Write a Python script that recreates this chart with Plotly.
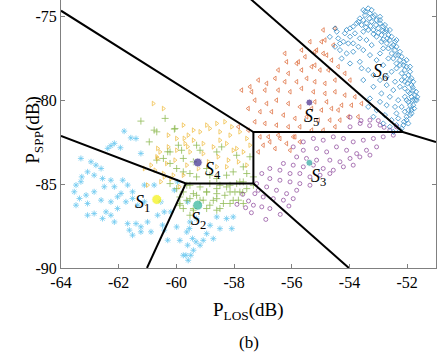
import plotly.graph_objects as go

# cluster samples: (P_LOS, P_SPP) in dB
c1_pts = [(-61.81,-81.83),(-61.58,-82.23),(-61.40,-82.27),(-62.27,-82.70),(-62.38,-82.86),(-61.94,-82.82),
          (-62.15,-82.56),(-61.23,-83.16),(-62.96,-83.66),(-62.79,-83.86),(-62.61,-84.06),(-63.08,-84.26),
          (-63.28,-84.56),(-63.48,-85.05),(-63.54,-85.45),(-63.31,-84.85),(-62.85,-84.46),(-62.56,-84.66),
          (-62.27,-84.76),(-61.86,-84.76),(-62.15,-85.15),(-61.69,-85.05),(-61.52,-85.45),(-61.92,-85.55),
          (-62.50,-85.15),(-62.85,-85.45),(-63.13,-85.65),(-63.36,-85.85),(-63.48,-86.25),(-63.08,-86.15),
          (-62.61,-85.95),(-62.27,-86.05),(-62.04,-86.45),(-61.75,-86.05),(-61.52,-85.85),(-62.44,-86.65),
          (-62.85,-86.75),(-63.08,-86.85),(-62.56,-87.05),(-62.27,-86.85),(-62.15,-87.25),(-61.69,-87.35),
          (-61.40,-87.35),(-61.23,-87.54),(-61.63,-87.74),(-61.52,-88.04),(-61.00,-87.25),(-60.65,-86.85),
          (-60.48,-87.44),(-60.30,-88.34),(-60.42,-87.74),(-60.88,-87.84),(-61.23,-87.84),(-62.04,-85.75),
          (-63.31,-83.46),(-61.34,-86.25),(-61.11,-86.05),(-59.96,-84.86),(-60.54,-86.05),(-60.77,-85.05),
          (-61.11,-85.05),(-60.07,-85.35),(-60.19,-86.65),(-60.42,-86.65),(-59.61,-86.05),(-59.55,-87.64),
          (-59.61,-88.64),(-59.50,-89.24),(-59.32,-88.44),(-59.67,-89.24),(-59.44,-88.24),(-59.99,-87.55),
          (-59.64,-87.85),(-59.30,-87.05),(-58.95,-87.95),(-58.72,-88.25),(-59.18,-88.64),(-59.41,-88.94),
          (-59.76,-89.24),(-59.59,-89.54),(-58.83,-87.45),(-58.49,-87.65),(-58.26,-87.05),(-58.08,-87.65),
          (-58.60,-86.95),(-58.03,-86.95),(-59.88,-88.35),(-59.07,-88.35),(-59.53,-87.25)]

c2_pts = [(-60.39,-81.07),(-60.05,-81.67),(-60.68,-81.87),(-59.93,-82.67),(-60.22,-83.07),(-59.82,-82.97),
          (-59.30,-82.67),(-59.18,-82.97),(-58.60,-83.07),(-58.43,-82.77),(-57.91,-83.27),(-57.45,-83.36),
          (-57.68,-83.96),(-58.03,-84.26),(-58.26,-84.46),(-58.60,-84.66),(-58.84,-84.46),(-59.30,-84.56),
          (-59.53,-84.36),(-59.76,-84.26),(-59.99,-84.06),(-60.22,-83.76),(-60.45,-83.46),(-60.68,-83.56),
          (-59.41,-83.66),(-59.76,-83.46),(-58.95,-84.06),(-57.56,-84.36),(-57.33,-84.56),(-58.14,-85.06),
          (-58.60,-85.26),(-58.95,-85.46),(-59.30,-85.66),(-59.53,-85.86),(-59.07,-85.95),(-58.60,-85.86),
          (-58.32,-85.66),(-57.97,-85.46),(-57.80,-84.86),(-59.64,-85.06),(-59.99,-85.26),(-60.22,-84.96),
          (-59.88,-86.25),(-59.41,-86.45),(-58.84,-86.25),(-58.49,-86.45),(-58.14,-86.15),(-57.85,-85.95),
          (-59.53,-85.06),(-59.18,-85.16),(-58.84,-84.96),(-58.49,-85.06),(-58.26,-85.16),(-57.91,-84.96),
          (-57.68,-84.86),(-59.76,-85.46),(-59.41,-85.56),(-58.95,-85.46),(-58.60,-85.56),(-58.14,-85.46),
          (-57.80,-85.46),(-57.56,-85.26),(-59.64,-85.96),(-59.18,-85.96),(-58.72,-85.96),(-58.37,-86.15),
          (-58.03,-85.96),(-57.68,-86.15),(-59.76,-86.45),(-59.41,-86.55),(-58.95,-86.45),(-58.60,-86.55),
          (-59.53,-86.85),(-59.88,-86.15),(-57.33,-85.06),(-59.88,-85.76),(-61.23,-81.23),(-60.77,-81.77),
          (-60.07,-81.71),(-60.94,-82.47),(-60.30,-83.06),(-57.70,-85.50)]

c4_pts = [(-60.80,-80.18),(-60.45,-80.48),(-59.76,-81.47),(-59.59,-82.07),(-59.18,-81.87),(-58.84,-81.67),
          (-58.60,-81.37),(-58.32,-81.27),(-58.08,-81.57),(-57.80,-81.87),(-57.56,-82.27),(-57.45,-82.67),
          (-57.68,-83.07),(-58.03,-82.97),(-58.26,-82.57),(-58.49,-82.37),(-58.72,-82.77),(-59.07,-82.57),
          (-59.41,-82.37),(-59.70,-82.57),(-59.99,-82.97),(-60.28,-82.77),(-60.57,-83.07),(-60.68,-83.36),
          (-60.34,-83.76),(-60.05,-83.56),(-59.64,-83.86),(-59.24,-84.06),(-58.89,-83.66),(-58.55,-83.36),
          (-58.20,-83.56),(-57.85,-83.66),(-57.56,-83.86),(-59.53,-83.07),(-59.07,-83.17),(-58.60,-83.96),
          (-58.26,-83.96),(-57.91,-82.87),(-59.76,-84.46),(-60.11,-84.46),(-60.45,-84.36),(-60.74,-84.16),
          (-58.95,-81.47),(-59.41,-81.77),(-58.14,-82.07),(-58.49,-81.87),(-59.99,-82.27),(-60.28,-82.07),
          (-59.73,-82.26),(-59.61,-82.76),(-60.65,-83.46),(-60.88,-83.86),(-61.11,-84.06),(-61.00,-85.05),
          (-60.54,-84.85),(-60.19,-84.66),(-59.90,-85.15),(-60.42,-84.56),(-60.65,-82.86)]

c5_pts = [(-54.50,-75.69),(-54.85,-76.39),(-54.56,-76.69),(-55.20,-77.09),(-54.91,-77.19),(-55.54,-77.39),
          (-55.83,-77.79),(-56.18,-77.69),(-56.47,-78.18),(-56.12,-78.38),(-55.66,-78.18),(-55.31,-77.98),
          (-55.02,-78.18),(-54.73,-78.18),(-54.39,-77.98),(-54.16,-78.38),(-53.98,-78.78),(-54.50,-78.78),
          (-54.85,-78.98),(-55.20,-78.88),(-55.48,-78.68),(-55.83,-78.88),(-56.24,-78.88),(-56.58,-78.68),
          (-56.87,-78.98),(-57.16,-78.78),(-57.45,-79.18),(-57.74,-79.38),(-57.39,-79.48),(-56.93,-79.38),
          (-56.47,-79.38),(-56.06,-79.48),(-55.66,-79.28),(-55.25,-79.48),(-54.85,-79.58),(-54.50,-79.48),
          (-54.16,-79.68),(-53.81,-79.78),(-53.58,-80.18),(-53.93,-80.28),(-54.27,-80.28),(-54.62,-80.48),
          (-54.97,-80.57),(-55.31,-80.48),(-55.72,-80.38),(-56.12,-80.18),(-56.53,-79.98),(-56.87,-80.18),
          (-57.28,-79.98),(-57.51,-80.48),(-57.10,-80.67),(-56.70,-80.67),(-56.29,-80.87),(-55.89,-81.07),
          (-55.48,-80.97),(-55.08,-81.17),(-54.68,-81.17),(-54.33,-81.17),(-54.04,-80.97),(-53.70,-80.97),
          (-54.50,-81.57),(-54.91,-81.77),(-55.31,-81.77),(-55.72,-81.57),(-56.12,-81.57),(-56.53,-81.47),
          (-56.93,-81.37),(-57.28,-81.27),(-56.47,-82.07),(-56.81,-82.17),(-55.89,-82.17),(-57.51,-81.77),
          (-57.85,-81.57),(-56.24,-77.19),(-55.37,-76.49),(-54.91,-75.79),(-54.62,-77.59),(-55.66,-76.99),
          (-55.20,-80.08),(-54.79,-80.08),(-54.39,-80.57),(-57.10,-82.17),(-56.76,-82.47),(-56.41,-82.27),
          (-56.18,-82.57),(-56.58,-82.87),(-56.99,-82.67),(-55.95,-82.17),(-57.16,-83.07),(-56.06,-82.97),
          (-55.72,-82.47),(-54.97,-76.49),(-55.14,-76.99),(-55.77,-77.69),(-54.79,-77.29),(-55.20,-77.89)]

c3_pts = [(-53.98,-81.57),(-53.63,-81.37),(-53.29,-81.17),(-52.94,-81.47),(-52.60,-81.77),(-52.37,-81.57),
          (-55.60,-82.47),(-55.25,-82.27),(-54.91,-82.37),(-54.56,-82.17),(-54.21,-82.27),(-53.87,-82.47),
          (-53.52,-82.37),(-53.17,-82.27),(-52.83,-82.17),(-52.48,-82.07),(-55.95,-82.77),(-55.60,-82.97),
          (-55.14,-82.87),(-54.79,-83.07),(-54.45,-82.77),(-54.10,-82.97),(-53.75,-83.17),(-53.41,-82.97),
          (-53.06,-82.77),(-55.83,-83.37),(-55.49,-83.46),(-55.14,-83.56),(-54.68,-83.56),(-54.33,-83.66),
          (-53.98,-83.46),(-53.64,-83.37),(-53.29,-83.26),(-56.29,-83.76),(-55.95,-83.86),(-55.60,-83.96),
          (-55.25,-83.86),(-54.91,-84.06),(-54.56,-84.16),(-54.21,-83.96),(-53.87,-83.86),(-56.76,-84.06),
          (-56.41,-84.16),(-56.06,-84.36),(-55.72,-84.36),(-55.37,-84.56),(-55.02,-84.46),(-54.68,-84.36),
          (-57.04,-84.36),(-56.76,-84.66),(-56.41,-84.76),(-56.06,-84.86),(-55.72,-84.96),(-55.37,-85.06),
          (-57.22,-84.96),(-56.87,-85.16),(-56.53,-85.36),(-56.18,-85.56),(-55.83,-85.36),(-57.28,-85.56),
          (-56.99,-85.76),(-56.64,-85.86),(-56.29,-85.95),(-57.33,-86.25),(-57.04,-86.35),(-56.76,-86.45),
          (-55.95,-85.86),(-57.16,-85.36),(-57.70,-85.60),(-57.50,-86.00),(-57.60,-86.40),(-57.90,-86.20),
          (-57.40,-86.70),(-53.98,-81.00),(-53.60,-81.20),(-53.30,-81.50),(-53.00,-81.20),(-52.80,-81.60),
          (-56.40,-86.80),(-56.90,-87.10),(-56.10,-86.30)]

c6_pts = [(-53.52,-74.60),(-53.35,-74.50),(-53.29,-74.80),(-53.46,-74.90),(-53.64,-75.10),(-53.17,-75.00),
          (-53.06,-75.20),(-53.23,-75.30),(-53.41,-75.39),(-53.58,-75.49),(-53.75,-75.39),(-53.87,-75.59),
          (-53.98,-75.69),(-54.10,-75.79),(-54.16,-75.99),(-52.94,-75.39),(-52.83,-75.59),(-53.00,-75.69),
          (-53.17,-75.79),(-53.35,-75.79),(-53.52,-75.89),(-52.77,-75.89),(-52.65,-76.09),(-52.89,-76.09),
          (-53.06,-76.19),(-52.60,-76.39),(-52.48,-76.69),(-52.71,-76.59),(-52.89,-76.49),(-52.42,-76.99),
          (-52.31,-77.29),(-52.54,-77.19),(-52.65,-76.89),(-52.25,-77.59),(-52.13,-77.89),(-52.37,-77.79),
          (-52.48,-77.49),(-52.08,-78.18),(-51.96,-78.48),(-52.19,-78.38),(-52.37,-78.08),(-51.90,-78.78),
          (-51.85,-79.08),(-52.08,-78.88),(-52.19,-78.78),(-51.79,-79.38),(-51.73,-79.68),(-51.96,-79.48),
          (-52.08,-79.28),(-51.73,-79.98),(-51.79,-80.28),(-51.96,-80.08),(-52.08,-79.78),(-51.85,-80.57),
          (-51.90,-80.87),(-52.08,-80.67),(-52.19,-80.38),(-52.02,-81.17),(-52.13,-81.47),(-52.31,-81.07),
          (-52.37,-80.77),(-53.98,-76.19),(-53.81,-75.99),(-53.64,-76.29),(-54.04,-76.59),(-54.21,-76.49),
          (-53.87,-76.59),(-53.69,-76.79),(-53.41,-76.39),(-53.23,-76.69),(-52.83,-76.89),(-52.65,-77.49),
          (-52.94,-77.19),(-54.10,-77.19),(-53.87,-77.09),(-53.52,-76.99),(-53.29,-77.29),(-53.06,-77.59),
          (-53.64,-77.69),(-53.98,-77.79),(-52.83,-77.89),(-52.54,-78.28),(-52.71,-78.58),(-52.42,-78.88),
          (-52.25,-79.18),(-52.48,-79.38),(-52.71,-79.08),(-52.94,-78.78),(-53.17,-78.48),(-53.35,-78.18),
          (-53.58,-78.08),(-53.52,-78.78),(-53.17,-79.18),(-52.89,-79.58),(-52.60,-79.78),(-52.31,-79.98),
          (-52.42,-80.38),(-52.71,-80.28),(-52.94,-80.08),(-53.29,-79.88),(-53.06,-80.58),(-52.77,-80.87),
          (-52.54,-81.17),(-52.37,-81.47),(-52.60,-81.57),(-52.83,-81.37),(-53.17,-80.97),(-53.35,-80.38),
          (-54.44,-75.89),(-54.39,-76.29),(-54.50,-76.79),(-54.33,-76.99),(-54.27,-77.49),(-52.02,-79.98),
          (-51.90,-77.98),(-52.37,-76.39),(-52.60,-75.79),(-52.94,-75.00),(-52.02,-77.59),(-51.85,-79.78),
          (-51.67,-79.98),(-52.25,-81.77),(-52.48,-81.87),(-53.46,-74.70),(-53.23,-74.60),(-53.12,-74.90),
          (-53.31,-75.10),(-53.52,-75.20),(-53.69,-75.30),(-52.94,-75.20),(-53.08,-75.49),(-53.27,-75.55),
          (-53.43,-75.63),(-52.77,-75.49),(-52.71,-75.79),(-52.85,-75.83),(-53.00,-75.95),(-53.17,-76.03),
          (-52.54,-76.19),(-52.69,-76.29),(-52.83,-76.35),(-52.42,-76.49),(-52.54,-76.79),(-52.37,-76.79),
          (-52.25,-77.09),(-52.39,-77.29),(-52.19,-77.39),(-52.11,-77.69),(-52.25,-77.89),(-52.02,-77.98),
          (-52.08,-78.58),(-51.90,-78.28),(-51.85,-78.68),(-51.99,-78.98),(-51.79,-78.88),(-51.81,-79.22),
          (-51.90,-79.58),(-51.69,-79.48),(-51.65,-79.78),(-51.81,-79.98),(-51.90,-80.28),(-51.76,-80.48),
          (-51.96,-80.57),(-51.85,-80.77),(-52.02,-80.97),(-52.11,-81.27),(-51.96,-81.37),(-52.19,-81.67),
          (-54.68,-76.20),(-54.50,-75.70),(-54.33,-76.60)]

# centroids S1..S5
cent_x = [-60.68, -59.26, -55.39, -59.26, -55.39]
cent_y = [-85.91, -86.25, -83.72, -83.70, -80.12]
cent_col = ['#f4f20c', '#2eb39a', '#2fa6a0', '#3a2b8c', '#45298a']
cent_size = [10, 10, 7, 9, 7]

labels = ['1', '2', '3', '4', '5', '6']
lab_x = [-61.16, -59.25, -55.09, -58.73, -55.30, -52.94]
lab_y = [-86.13, -87.15, -84.58, -84.16, -81.00, -78.30]

# Voronoi style boundaries, segments split by None
bx = [-64, -57.33, -52.15, -51.0, None, -57.72, -52.15, None, -57.33, -57.33, -59.67, -64, None,
      -59.67, -61.02, None, -57.33, -54.02]
by = [-74.64, -81.88, -81.88, -82.48, None, -73.5, -81.88, None, -81.88, -84.95, -84.95, -82.11, None,
      -84.95, -90.0, None, -84.95, -90.0]

xticks = [-64, -62, -60, -58, -56, -54, -52]
yticks = [-90, -85, -80, -75]

serif = 'Liberation Serif'

clusters = [
    (c1_pts, '#4dbeee', 'asterisk-open', 5),
    (c2_pts, '#77ac30', 'cross-thin-open', 5),
    (c4_pts, '#edb120', 'triangle-right-open', 4),
    (c5_pts, '#d95319', 'triangle-left-open', 4),
    (c3_pts, '#7e2f8e', 'circle-open', 4),
    (c6_pts, '#0072bd', 'diamond-open', 4),
]

fig = go.Figure()
for pts, col, sym, sz in clusters:
    fig.add_trace(go.Scatter(
        x=[p[0] for p in pts], y=[p[1] for p in pts], mode='markers',
        marker=dict(symbol=sym, size=sz, color=col, line=dict(width=0.8, color=col)),
        opacity=0.8, showlegend=False))

fig.add_trace(go.Scatter(x=bx, y=by, mode='lines', line=dict(color='black', width=2),
                         showlegend=False))

fig.add_trace(go.Scatter(x=cent_x, y=cent_y, mode='markers',
                         marker=dict(color=cent_col, size=cent_size), showlegend=False))

for t, lx, ly in zip(labels, lab_x, lab_y):
    fig.add_annotation(x=lx, y=ly, text='<i>S</i><sub>' + t + '</sub>', showarrow=False,
                       font=dict(family=serif, size=18, color='black'))

fig.add_annotation(xref='paper', yref='paper', x=0.5, y=-0.11, yanchor='top',
                   text='P<sub>LOS</sub>(dB)', showarrow=False,
                   font=dict(family=serif, size=19, color='black'))
fig.add_annotation(xref='paper', yref='paper', x=0.5, y=-0.235, yanchor='top',
                   text='(b)', showarrow=False, font=dict(family=serif, size=17, color='black'))
fig.add_annotation(xref='paper', yref='paper', x=-0.11, y=0.515, textangle=-90,
                   text='P<sub>SPP</sub>(dB)', showarrow=False,
                   font=dict(family=serif, size=19, color='black'))

fig.update_xaxes(range=[-64, -51], tickvals=xticks, ticktext=[str(v) for v in xticks],
                 ticks='inside', ticklen=4, tickcolor='#808080', showline=True, linecolor='#808080',
                 linewidth=1, mirror=False, showgrid=False, zeroline=False,
                 tickfont=dict(family=serif, size=16, color='black'))
fig.update_yaxes(range=[-90, -74], tickvals=yticks, ticktext=[str(v) for v in yticks],
                 ticks='inside', ticklen=4, tickcolor='#808080', showline=True, linecolor='#808080',
                 linewidth=1, mirror='ticks', showgrid=False, zeroline=False,
                 tickfont=dict(family=serif, size=16, color='black'))

fig.update_layout(width=443, height=353, margin=dict(l=61, r=7, t=0, b=85),
                  plot_bgcolor='white', paper_bgcolor='white')

# the page's default body margin would shift the figure; drop it
fig.write_html("out.html", config={'displayModeBar': False},
               post_script="document.body.style.margin='0px';")
